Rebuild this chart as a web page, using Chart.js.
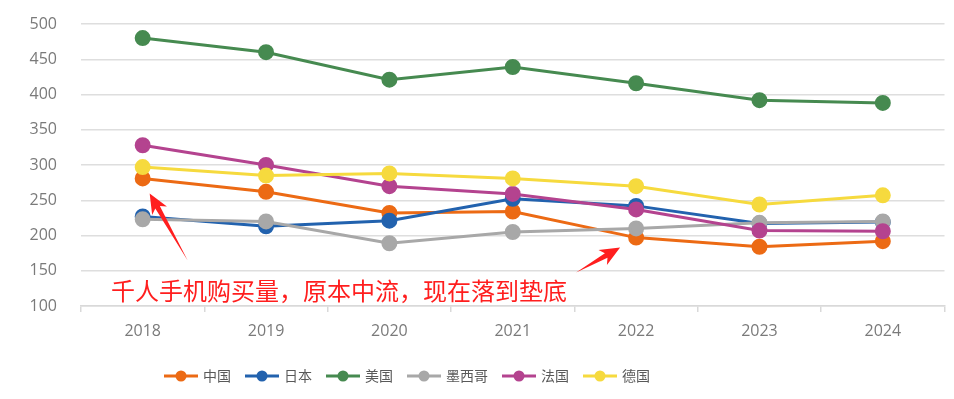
<!DOCTYPE html>
<html>
<head>
<meta charset="utf-8">
<script src="https://cdn.jsdelivr.net/npm/chart.js@4.4.1/dist/chart.umd.min.js"></script>
<style>
  html, body { margin: 0; padding: 0; background: #fff; }
  #wrap { width: 954px; height: 399px; position: relative; }
</style>
</head>
<body>
<div id="wrap"><canvas id="myChart" width="954" height="399"></canvas></div>
<script>
'use strict';
// data
let years = ['2018', '2019', '2020', '2021', '2022', '2023', '2024'];
let countries = ['中国', '日本', '美国', '墨西哥', '法国', '德国'];
let chinaValues = [281, 262, 232, 234, 197, 184, 192];
let japanValues = [227, 213, 221, 252, 242, 217, 219];
let usaValues = [480, 460, 421, 439, 416, 392, 388];
let mexicoValues = [223, 220, 189, 205, 210, 218, 220];
let franceValues = [328, 300, 270, 259, 237, 207, 206];
let germanyValues = [297, 285, 288, 281, 270, 244, 257];
let yTicks = [100, 150, 200, 250, 300, 350, 400, 450, 500];
let noteText = '千人手机购买量，原本中流，现在落到垫底';

let seriesValues = [chinaValues, japanValues, usaValues, mexicoValues, franceValues, germanyValues];
let colors = ['#EC6A14', '#2262AE', '#468A50', '#A8A8A8', '#B4438F', '#F6DA3E'];

// little line+dot picture for the legend
function legendIcon(color) {
    let c = document.createElement('canvas');
    c.width = 34;
    c.height = 14;
    let g = c.getContext('2d');
    g.strokeStyle = color;
    g.lineWidth = 3;
    g.beginPath();
    g.moveTo(0, 7);
    g.lineTo(34, 7);
    g.stroke();
    g.fillStyle = color;
    g.beginPath();
    g.arc(17, 7, 5.5, 0, Math.PI * 2);
    g.fill();
    return c;
}
let icons = colors.map(legendIcon);

let datasets = [];
for (let i = 0; i < countries.length; i++) {
    datasets.push({
        label: countries[i],
        data: seriesValues[i],
        borderColor: colors[i],
        backgroundColor: colors[i],
        pointBackgroundColor: colors[i],
        pointBorderColor: colors[i],
        borderWidth: 3,
        pointRadius: 6.5,
        pointHoverRadius: 6.5,
        tension: 0,
        order: -i
    });
}

function drawArrow(ctx, tx, ty, hx, hy) {
    let dx = hx - tx, dy = hy - ty;
    let len = Math.sqrt(dx * dx + dy * dy);
    let ux = dx / len, uy = dy / len;
    let nx = -uy, ny = ux;
    let headLen = 20, headW = 8.5, shaftW = 2.6;
    let bx = hx - ux * headLen, by = hy - uy * headLen;
    let notch = 4;
    ctx.beginPath();
    ctx.moveTo(tx, ty);
    ctx.lineTo(bx + ux * notch + nx * shaftW, by + uy * notch + ny * shaftW);
    ctx.lineTo(bx + nx * headW, by + ny * headW);
    ctx.lineTo(hx, hy);
    ctx.lineTo(bx - nx * headW, by - ny * headW);
    ctx.lineTo(bx + ux * notch - nx * shaftW, by + uy * notch - ny * shaftW);
    ctx.closePath();
    ctx.fill();
}

const notePlugin = {
    id: 'note',
    afterLayout(chart) {
        // the legend sits left of centre in the original
        chart.legend.left = 0;
        chart.legend.right = 816;
    },
    afterDatasetsDraw(chart) {
        let ctx = chart.ctx;
        let xs = chart.scales.x;
        let ys = chart.scales.y;
        ctx.save();
        ctx.fillStyle = '#FF1E1E';
        ctx.font = '24px "Noto Sans CJK SC"';
        ctx.textBaseline = 'middle';
        ctx.textAlign = 'left';
        ctx.fillText(noteText, xs.left + 30, ys.getPixelForValue(121));
        // arrows pointing at China 2018 and 2022
        let p0x = xs.getPixelForValue(0), p0y = ys.getPixelForValue(chinaValues[0]);
        drawArrow(ctx, p0x + 45, p0y + 82, p0x + 7, p0y + 15);
        let p4x = xs.getPixelForValue(4), p4y = ys.getPixelForValue(chinaValues[4]);
        drawArrow(ctx, p4x - 60, p4y + 35, p4x - 16, p4y + 10);
        ctx.restore();
    }
};

var ctx = document.getElementById('myChart').getContext('2d');
var myChart = new Chart(ctx, {
    type: 'line',
    data: {
        labels: years,
        datasets: datasets
    },
    options: {
        responsive: false,
        animation: false,
        devicePixelRatio: 1,
        layout: {
            padding: { left: 0, right: 3, top: 24, bottom: 6 }
        },
        plugins: {
            tooltip: { enabled: false },
            legend: {
                position: 'bottom',
                labels: {
                    usePointStyle: true,
                    pointStyleWidth: 30,
                    padding: 16,
                    color: '#595959',
                    font: { family: '"Noto Sans CJK SC"', size: 14 },
                    generateLabels: chart => {
                        let items = Chart.defaults.plugins.legend.labels.generateLabels(chart);
                        items.forEach(it => { it.pointStyle = icons[it.datasetIndex]; });
                        return items;
                    },
                    sort: (a, b) => a.datasetIndex - b.datasetIndex
                }
            }
        },
        scales: {
            x: {
                offset: true,
                afterFit: s => { s.height = 47; s.paddingLeft = 0; s.paddingRight = 0; },
                grid: {
                    offset: true,
                    drawOnChartArea: false,
                    drawTicks: true,
                    tickLength: 6,
                    color: '#D9D9D9',
                    lineWidth: 1.5
                },
                border: { color: '#D9D9D9', width: 1.5 },
                ticks: {
                    padding: 10,
                    color: '#7A7A7A',
                    font: { family: '"Open Sans"', size: 16 }
                }
            },
            y: {
                min: 100,
                max: 500,
                afterFit: s => { s.width = 81; s.paddingTop = 0; s.paddingBottom = 0; },
                afterBuildTicks: s => { s.ticks = yTicks.map(v => ({ value: v })); },
                grid: {
                    drawTicks: false,
                    color: '#DEDEDE',
                    lineWidth: 1.5
                },
                border: { display: false },
                ticks: {
                    padding: 24,
                    color: '#7A7A7A',
                    font: { family: '"Open Sans"', size: 16 }
                }
            }
        }
    },
    plugins: [notePlugin]
});
</script>
</body>
</html>
